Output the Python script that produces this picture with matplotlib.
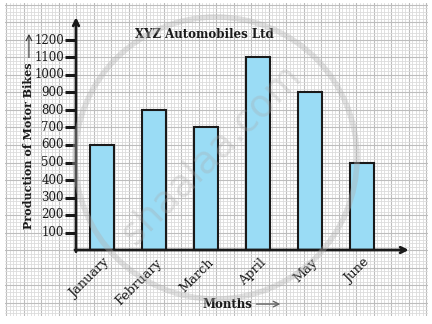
import numpy as np
import matplotlib.pyplot as plt
from matplotlib.patches import Ellipse

months = ["January", "February", "March", "April", "May", "June"]
production = [600, 800, 700, 1100, 900, 500]
y_ticks = [100, 200, 300, 400, 500, 600, 700, 800, 900, 1000, 1100, 1200]

fig = plt.figure(figsize=(4.32, 3.24), dpi=100)
# axes covers the graph paper area, origin sits at pixel (76, 250)
ax = fig.add_axes([5 / 432, 8 / 324, 423 / 432, 313 / 324])

# graph paper
step_x = 17.5 / 52
ax.set_xticks(np.arange(-5, 21) * step_x)
ax.set_xticks(np.arange(-25, 105) * step_x / 5, minor=True)
ax.set_yticks(np.arange(-400, 1500, 100))
ax.set_yticks(np.arange(-400, 1500, 20), minor=True)
ax.grid(which="minor", color="#dcdcdc", lw=0.6)
ax.grid(which="major", color="#bdbdbd", lw=0.8)
ax.tick_params(which="both", length=0, labelbottom=False, labelleft=False)
for s in ax.spines.values():
    s.set_visible(False)
ax.set_axisbelow(True)

serif = "DejaVu Serif"
x = np.arange(len(months)) + 0.5

# creating the bar plot
ax.bar(x, production, width=0.45, color="#9adcf5", edgecolor="#1a1a1a",
       linewidth=1.5, zorder=3)

# axes with arrows
ax.annotate("", xy=(6.4, 0), xytext=(-0.02, 0),
            arrowprops=dict(arrowstyle="->", lw=2, color="#1a1a1a",
                            shrinkA=0, shrinkB=0), zorder=4)
ax.annotate("", xy=(0, 1330), xytext=(0, -10),
            arrowprops=dict(arrowstyle="->", lw=2, color="#1a1a1a",
                            shrinkA=0, shrinkB=0), zorder=4)

for v in y_ticks:
    ax.plot([-11 / 52, 0], [v, v], color="#1a1a1a", lw=2.2, zorder=4,
            solid_capstyle="butt")
    ax.text(-12 / 52, v, str(v), ha="right", va="center", fontsize=8.5,
            family=serif, color="#1a1a1a")

for xi, m in zip(x, months):
    ax.text(xi + 0.02, -35, m, rotation=45, ha="right", va="top",
            rotation_mode="anchor", fontsize=9.3, family=serif,
            color="#1a1a1a")

ax.text(2.46, 1234, "XYZ Automobiles Ltd", ha="center", va="center",
        fontsize=8.5, fontweight="bold", family=serif, color="#1a1a1a")

ax.text(-0.905, 594, "Production of Motor Bikes", rotation=90, ha="center",
        va="center", fontsize=8, fontweight="bold", family=serif,
        color="#1a1a1a")
ax.annotate("", xy=(-0.905, 1235), xytext=(-0.905, 1100),
            arrowprops=dict(arrowstyle="->", lw=0.8, color="#333333",
                            shrinkA=0, shrinkB=0))

ax.text(2.92, -309, "Months", ha="center", va="center", fontsize=8.5,
        fontweight="bold", family=serif, color="#1a1a1a")
ax.annotate("", xy=(3.93, -309), xytext=(3.47, -309),
            arrowprops=dict(arrowstyle="->", lw=1, color="#666666",
                            shrinkA=0, shrinkB=0))

# watermark
ax.add_patch(Ellipse((140 / 52, 92 / 17.5 * 100), 282 / 52, 282 / 17.5 * 100,
                     fill=False, lw=4, edgecolor="#b0b0b0", alpha=0.38,
                     zorder=5))
ax.text(136 / 52, 95 / 17.5 * 100, "shaalaa.com", rotation=45, ha="center",
        va="center", fontsize=27, color="#a8a8a8", alpha=0.3, zorder=5)

# limits last, set_xticks would widen them
ax.set_xlim(-71 / 52, 352 / 52)
ax.set_ylim(-66 / 17.5 * 100, 247 / 17.5 * 100)

fig.savefig("out.png", dpi=100)
